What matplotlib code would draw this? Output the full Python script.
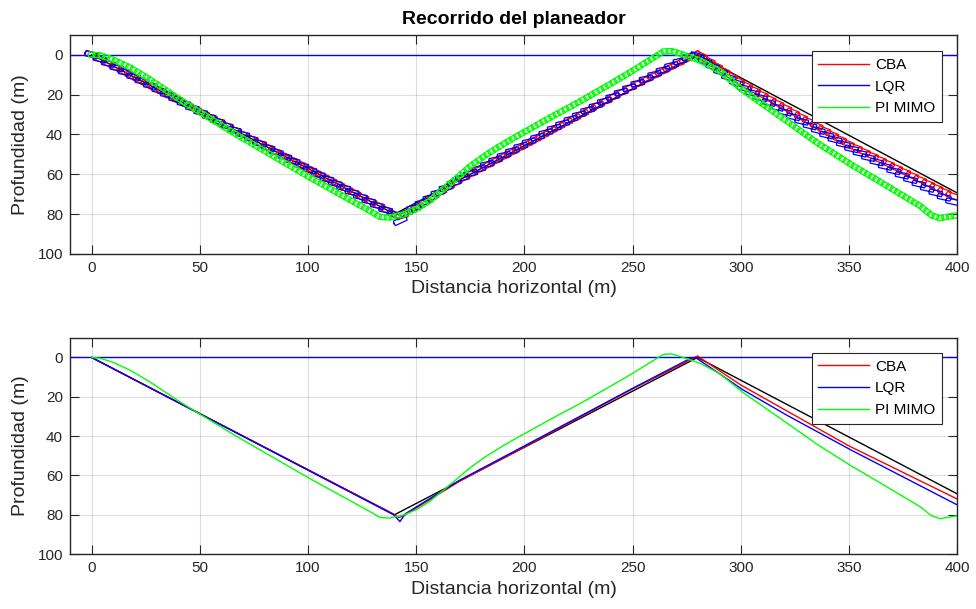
import numpy as np
import matplotlib
matplotlib.use('Agg')
import matplotlib.pyplot as plt

# trayectoria de referencia
ref_x = [0, 140, 280, 400]
ref_y = [0, 80, 0, 69.4]

# CBA
cba_x = [0, 140, 142, 145, 170, 200, 250, 278, 280, 283, 300, 350, 400]
cba_y = [0, 80, 81.5, 80, 63, 45.5, 16, 0.5, -0.8, 1.5, 14, 45, 72]

# LQR
lqr_x = [0, 139.5, 142.5, 145, 170, 200, 250, 277, 279, 290.5, 300.6, 321.5, 350.8, 400.9]
lqr_y = [0, 80, 83.5, 79.5, 62.5, 45, 15.7, 0.3, 0, 8.5, 16.2, 29.5, 47, 75.5]

# PI MIMO
pi_x = [0, 4, 10, 18, 26, 34, 42, 50, 66.8, 100, 128.6, 133.2, 137.6, 144, 150,
        156, 162, 168.6, 175, 182, 190, 200, 212, 225.8, 238, 250, 258, 264.3,
        268, 272, 281.3, 290.6, 300.6, 321.5, 335, 350.8, 367.8, 383, 388, 392, 400.9]
pi_y = [0, 0.4, 2.5, 6.6, 11.8, 17.6, 23.4, 28.8, 40, 61.1, 78.4, 81.4, 81.7, 80.2, 77.5,
        73.5, 68, 62, 56, 50.5, 45, 38.8, 31.5, 23.4, 15.8, 8.1, 2.6, -1.6,
        -1.8, -0.5, 3, 8.5, 17.5, 33.5, 44, 55, 66, 76, 80.5, 82, 80.4]

surface = 0
labels = ['CBA', 'LQR', 'PI MIMO']

plt.rcParams['font.family'] = ['Liberation Sans', 'DejaVu Sans']
dark = (0.15, 0.15, 0.15)


def glider_outlines(x, y, kx, ky, step, length, height, tilt):
    # contorno del planeador a lo largo de la trayectoria (medidas en pixeles)
    sx = np.asarray(x, float) * kx
    sy = np.asarray(y, float) * ky
    seg = np.hypot(np.diff(sx), np.diff(sy))
    s = np.concatenate([[0], np.cumsum(seg)])
    pos = np.arange(0, s[-1], step)
    cx = np.interp(pos, s, sx)
    cy = np.interp(pos, s, sy)
    idx = np.clip(np.searchsorted(s, pos, side='right') - 1, 0, len(seg) - 1)
    ang = np.arctan2(np.diff(sy), np.diff(sx))[idx] * tilt
    L, H, c = length / 2, height / 2, 0.7
    shape = np.array([[-L, 0], [-L + c, -H], [L - c, -H], [L, 0],
                      [L - c, H], [-L + c, H], [-L, 0]])
    xs, ys = [], []
    for px, py, a in zip(cx, cy, ang):
        ca, sa = np.cos(a), np.sin(a)
        rx = shape[:, 0] * ca - shape[:, 1] * sa
        ry = shape[:, 0] * sa + shape[:, 1] * ca
        xs += list((px + rx) / kx) + [np.nan]
        ys += list((py + ry) / ky) + [np.nan]
    return xs, ys


def style_axes(ax):
    ax.set_xlim(-10, 400)
    ax.set_ylim(100, -10)
    ax.set_xticks(np.arange(0, 401, 50))
    ax.set_yticks(np.arange(0, 101, 20))
    ax.grid(True, color=(0.15, 0.15, 0.15), alpha=0.15, lw=0.8)
    ax.set_axisbelow(True)
    ax.tick_params(direction='in', length=6.4, width=0.8, top=True, right=True,
                   colors=dark, labelsize=11, pad=5)
    for sp in ax.spines.values():
        sp.set_color(dark)
        sp.set_linewidth(1.0)
    ax.set_xlabel('Distancia horizontal (m)', fontsize=14, color=dark)
    ax.set_ylabel('Profundidad (m)', fontsize=14, color=dark)
    ax.yaxis.set_label_coords(-0.046, 0.5)


fig = plt.figure(figsize=(9.76, 6.09), dpi=100)
ax1 = fig.add_axes([0.0717, 0.583, 0.909, 0.36])
ax2 = fig.add_axes([0.0717, 0.0903, 0.909, 0.355])

# subplot superior: planeadores
kx = ax1.bbox.width / 410
ky = ax1.bbox.height / 110
ax1.axhline(surface, color='b', lw=1)
ax1.plot(ref_x, ref_y, color='k', lw=1)
gx, gy = glider_outlines(cba_x, cba_y, kx, ky, 9, 13, 5, 0.7)
ax1.plot(gx, gy, color='r', lw=0.9, label=labels[0])
gx, gy = glider_outlines(lqr_x, lqr_y, kx, ky, 9.5, 14, 5, 0.45)
ax1.plot(gx, gy, color='b', lw=0.9, label=labels[1])
gx, gy = glider_outlines(pi_x, pi_y, kx, ky, 5, 7, 5, 1.0)
ax1.plot(gx, gy, color=(0, 1, 0), lw=0.9, label=labels[2])
ax1.set_title('Recorrido del planeador', fontsize=14, fontweight='bold', color='k', pad=8)

# subplot inferior: trayectorias
ax2.axhline(surface, color='b', lw=1)
ax2.plot(ref_x, ref_y, color='k', lw=1)
ax2.plot(cba_x, cba_y, color='r', lw=1, label=labels[0])
ax2.plot(lqr_x, lqr_y, color='b', lw=1, label=labels[1])
ax2.plot(pi_x, pi_y, color=(0, 1, 0), lw=1, label=labels[2])

for ax, ytop in [(ax1, 0.925), (ax2, 0.93)]:
    style_axes(ax)
    leg = ax.legend(loc='upper right', bbox_to_anchor=(0.983, ytop), fontsize=11,
                    handlelength=3.3, handletextpad=0.4, labelspacing=0.5,
                    borderpad=0.45, borderaxespad=0, fancybox=False, framealpha=1)
    leg.get_frame().set_edgecolor(dark)
    leg.get_frame().set_linewidth(0.8)
    for h in leg.get_lines():
        h.set_linewidth(1)

fig.savefig('out.png', dpi=100)
